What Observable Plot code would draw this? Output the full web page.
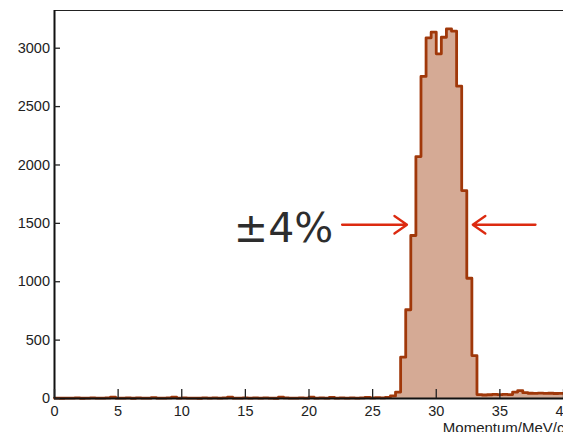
<!DOCTYPE html>
<html><head><meta charset="utf-8">
<script src="https://cdn.jsdelivr.net/npm/d3@7"></script>
<script src="https://cdn.jsdelivr.net/npm/@observablehq/plot@0.6"></script>
<style>
body{margin:0;background:#fff;}
#chart{width:563px;height:432px;overflow:hidden;}
</style>
</head><body><div id="chart"></div>
<script>
// Histogram: 100 bins of 0.4 MeV/c from 0 to 40
const binWidth = 0.4;
const xMin = 0, xMax = 40;
const counts = [
  3,2,4,3,5,2,3,6,4,3,
  5,12,4,3,6,2,5,4,3,7,
  4,3,5,11,4,6,3,4,2,5,
  4,6,3,5,12,4,3,5,4,6,
  3,5,4,2,11,5,3,4,6,3,
  12,4,5,3,10,4,6,3,5,4,
  6,9,5,7,
  6,10,22,55,354,760,1396,2072,2758,3089,
  3137,2952,3094,3166,3146,2675,1781,1030,368,
  34,30,32,35,33,36,34,55,68,50,
  45,44,46,44,45,43,44
];
const xTicks = [0,5,10,15,20,25,30,35,40];
const yTicks = [0,500,1000,1500,2000,2500,3000];
const yMax = 3323;
const xLabel = ["Momentum/MeV/c"];
const annText = ["±4%"];
const annX = [18.0];
const annY = [1450];
const arrowX1 = [22.6, 37.8];
const arrowX2 = [27.7, 32.87];
const arrowY = [1488, 1488];

const steps = counts.map((c, i) => ({x: xMin + i * binWidth, y: c}));
steps.push({x: xMax, y: counts[counts.length - 1]});
const arrows = arrowX1.map((x1, i) => ({x1, x2: arrowX2[i], y: arrowY[i]}));
const ann = annText.map((t, i) => ({t, x: annX[i], y: annY[i]}));

const fillColor = "#d5aa95";
const lineColor = "#a0380a";

const chart = Plot.plot({
  width: 563,
  height: 432,
  marginLeft: 54,
  marginRight: 0,
  marginTop: 10,
  marginBottom: 34,
  style: {fontFamily: "'Liberation Sans', Arial, sans-serif", fontSize: "14.5px", color: "#222", background: "#fff"},
  x: {domain: [xMin, xMax]},
  y: {domain: [0, yMax]},
  marks: [
    Plot.areaY(steps, {x: "x", y: "y", curve: "step-after", fill: fillColor}),
    Plot.lineY(steps, {x: "x", y: "y", curve: "step-after", stroke: lineColor, strokeWidth: 2.8}),
    Plot.ruleY([yMax], {stroke: "#222", strokeWidth: 1}),
    Plot.ruleX([xMin], {stroke: "#111", strokeWidth: 2}),
    Plot.ruleY([0], {stroke: "#111", strokeWidth: 2}),
    Plot.axisX({ticks: xTicks, tickSize: -9, tickPadding: 16, tickFormat: d => String(d), label: null, stroke: "#222", strokeWidth: 1.3}),
    Plot.axisY({ticks: yTicks, tickSize: -6, tickPadding: 10.5, tickFormat: d => String(d), label: null, stroke: "#222", strokeWidth: 1.3}),
    Plot.text(xLabel, {frameAnchor: "bottom-right", text: d => d, textAnchor: "end", lineAnchor: "bottom", dy: 34, dx: 1, fontSize: 15, fill: "#222"}),
    Plot.arrow(arrows, {x1: "x1", x2: "x2", y1: "y", y2: "y", stroke: "#dc2a10", strokeWidth: 2.3, headLength: 10, headAngle: 70}),
    Plot.text(ann, {x: "x", y: "y", text: "t", fontSize: 41, fontFamily: "'DejaVu Sans', sans-serif", fill: "#2d2d2d", lineAnchor: "middle", textAnchor: "middle"})
  ]
});
document.getElementById("chart").appendChild(chart);
</script>
</body></html>
